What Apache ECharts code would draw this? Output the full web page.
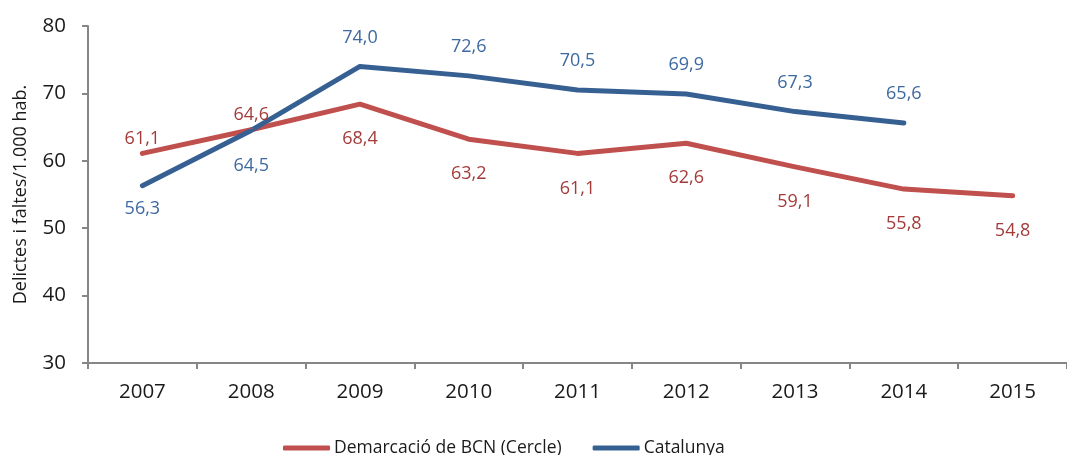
<!DOCTYPE html>
<html>
<head>
<meta charset="utf-8">
<script src="https://cdn.jsdelivr.net/npm/echarts@6/dist/echarts.min.js"></script>
<style>
  html, body { margin: 0; padding: 0; background: #fff; }
  #chart { width: 1067px; height: 455px; }
</style>
</head>
<body>
<div id="chart"></div>
<script>
// dades
const years = ['2007', '2008', '2009', '2010', '2011', '2012', '2013', '2014', '2015'];
const bcnValues = [61.1, 64.6, 68.4, 63.2, 61.1, 62.6, 59.1, 55.8, 54.8];
const catValues = [56.3, 64.5, 74.0, 72.6, 70.5, 69.9, 67.3, 65.6, null];
const seriesNames = ['Demarcació de BCN (Cercle)', 'Catalunya'];

// posició de les etiquetes (top / bottom)
const bcnLabelSide = ['top', 'top', 'bottom', 'bottom', 'bottom', 'bottom', 'bottom', 'bottom', 'bottom'];
const catLabelSide = ['bottom', 'bottom', 'top', 'top', 'top', 'top', 'top', 'top', 'top'];

const FONT = '"Open Sans", "Noto Sans", sans-serif';
const RED = '#C0504D';
const BLUE = '#376092';

const fmt = v => v.toFixed(1).replace('.', ',');

function buildData(values, sides, color) {
  return values.map((v, i) => {
    if (v == null) return '-';
    const side = sides[i];
    return {
      value: v,
      label: {
        show: true,
        position: side,
        distance: side === 'top' ? (color === RED ? 4 : 18) : (color === BLUE && i === 0 ? 12 : 24),
        color: color === RED ? '#A33B3A' : '#3E69A0'
      }
    };
  });
}

const chart = echarts.init(document.getElementById('chart'));

const option = {
  animation: false,
  textStyle: { fontFamily: FONT },
  grid: { left: 88, right: -11, top: 26, bottom: 92, containLabel: false },
  legend: {
    left: 278,
    top: 434,
    itemWidth: 47,
    itemHeight: 5,
    itemGap: 31,
    icon: 'roundRect',
    textStyle: { fontFamily: FONT, fontSize: 17.5, color: '#1a1a1a', padding: [0, 0, 0, -1] },
    data: seriesNames
  },
  xAxis: {
    type: 'category',
    data: years,
    boundaryGap: true,
    axisLine: { lineStyle: { color: '#868686', width: 2 } },
    axisTick: { show: true, length: 6, lineStyle: { color: '#868686', width: 2 } },
    axisLabel: { fontFamily: FONT, fontSize: 20.5, color: '#1a1a1a', margin: 19 }
  },
  yAxis: {
    type: 'value',
    min: 30,
    max: 80,
    interval: 10,
    name: 'Delictes i faltes/1.000 hab.',
    nameLocation: 'middle',
    nameGap: 58,
    nameTextStyle: { fontFamily: FONT, fontSize: 18, color: '#1a1a1a' },
    axisLine: { show: true, lineStyle: { color: '#868686', width: 2 } },
    axisTick: { show: true, length: 6, lineStyle: { color: '#868686', width: 2 } },
    splitLine: { show: false },
    axisLabel: { fontFamily: FONT, fontSize: 20.5, color: '#1a1a1a', margin: 22 }
  },
  series: [
    {
      name: seriesNames[0],
      type: 'line',
      data: buildData(bcnValues, bcnLabelSide, RED),
      symbol: 'circle',
      symbolSize: 4,
      showSymbol: true,
      color: RED,
      itemStyle: { color: RED },
      lineStyle: { color: RED, width: 5, cap: 'round', join: 'round' },
      label: {
        show: true,
        fontFamily: FONT,
        fontSize: 18,
        formatter: p => fmt(p.value)
      }
    },
    {
      name: seriesNames[1],
      type: 'line',
      data: buildData(catValues, catLabelSide, BLUE),
      symbol: 'circle',
      symbolSize: 4,
      showSymbol: true,
      color: BLUE,
      itemStyle: { color: BLUE },
      lineStyle: { color: BLUE, width: 5, cap: 'round', join: 'round' },
      label: {
        show: true,
        fontFamily: FONT,
        fontSize: 18,
        formatter: p => fmt(p.value)
      }
    }
  ]
};

chart.setOption(option);
</script>
</body>
</html>
